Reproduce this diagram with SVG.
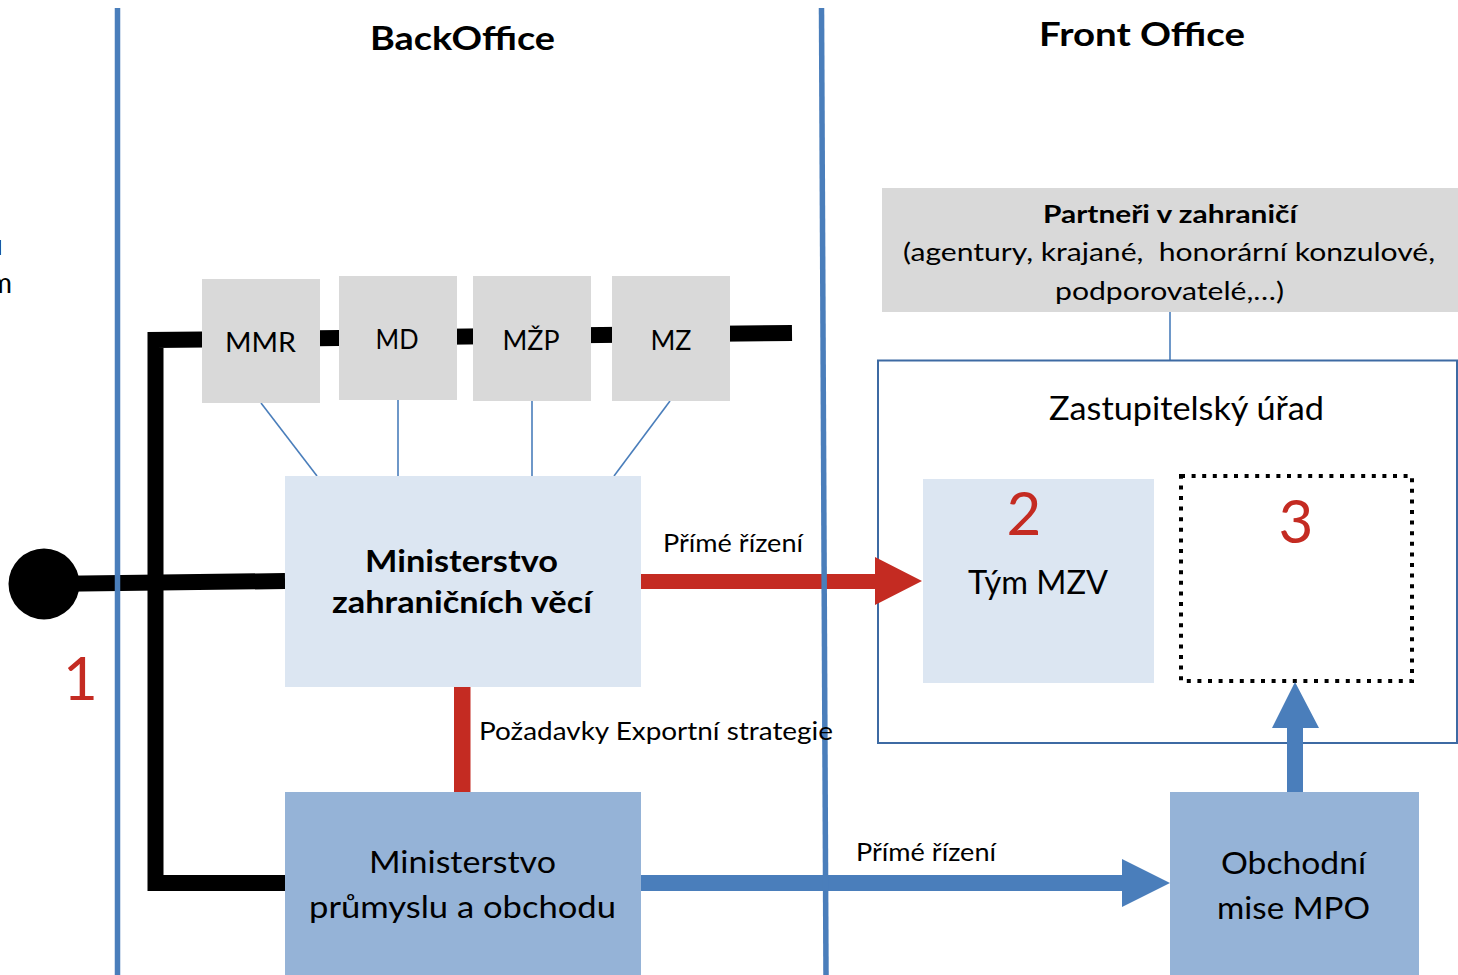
<svg xmlns="http://www.w3.org/2000/svg" width="1458" height="975" viewBox="0 0 1458 975">
<style>
text{font-family:Lato,"Noto Sans","Liberation Sans",sans-serif;fill:#000}
.b{font-weight:bold}
.num{fill:#c42b22;font-size:60px}
.lbl{font-size:25px}
.big{font-size:31px}
.gray{fill:#d9d9d9}
.light{fill:#dce6f2}
.mid{fill:#95b3d7}
.thin{stroke:#4a7ebb;stroke-width:1.6;fill:none}
.sec{stroke:#4a7ebb;stroke-width:5.5;fill:none}
</style>
<rect width="1458" height="975" fill="#fff"/>

<g id="cut-text">
<text x="2.5" y="255" text-anchor="end" font-size="28">u</text>
<text x="12" y="293" text-anchor="end" font-size="28">m</text>
</g>

<g id="titles">
<text class="b" x="462.5" y="49.5" text-anchor="middle" font-size="33" textLength="185" lengthAdjust="spacingAndGlyphs">BackOffice</text>
<text class="b" x="1142" y="46" text-anchor="middle" font-size="33" textLength="206" lengthAdjust="spacingAndGlyphs">Front Office</text>
</g>

<g id="connectors">
<polyline points="792,333 155.5,340 155.5,883 287,883" fill="none" stroke="#000" stroke-width="16" stroke-linejoin="miter"/>
<line x1="44" y1="584" x2="285" y2="581" stroke="#000" stroke-width="16"/>
<circle cx="44" cy="584" r="35.5" fill="#000"/>
<line class="thin" x1="261" y1="403" x2="317" y2="476"/>
<line class="thin" x1="398" y1="400" x2="398" y2="476"/>
<line class="thin" x1="532" y1="401" x2="532" y2="476"/>
<line class="thin" x1="670" y1="401" x2="614" y2="476"/>
<line class="thin" x1="1170" y1="312" x2="1170" y2="360"/>
</g>

<g id="zastupitelsky-urad">
<rect x="878" y="360.5" width="579" height="382.5" fill="#fff" stroke="#3d6aa3" stroke-width="2"/>
<text x="1186.5" y="420" text-anchor="middle" font-size="33" textLength="275" lengthAdjust="spacingAndGlyphs">Zastupitelský úřad</text>
</g>

<g id="mmr"><rect class="gray" x="202" y="279" width="118" height="124"/>
<text x="260.5" y="352" text-anchor="middle" font-size="27" textLength="71" lengthAdjust="spacingAndGlyphs">MMR</text></g>
<g id="md"><rect class="gray" x="339" y="276" width="118" height="124"/>
<text x="397" y="349" text-anchor="middle" font-size="27" textLength="43" lengthAdjust="spacingAndGlyphs">MD</text></g>
<g id="mzp"><rect class="gray" x="473" y="276" width="118" height="125"/>
<text x="531" y="350" text-anchor="middle" font-size="27" textLength="57" lengthAdjust="spacingAndGlyphs">MŽP</text></g>
<g id="mz"><rect class="gray" x="612" y="276" width="118" height="125"/>
<text x="671" y="350" text-anchor="middle" font-size="27" textLength="41" lengthAdjust="spacingAndGlyphs">MZ</text></g>

<g id="mzv">
<rect class="light" x="285" y="476" width="356" height="211"/>
<text class="b big" x="461.5" y="572" text-anchor="middle" textLength="193" lengthAdjust="spacingAndGlyphs">Ministerstvo</text>
<text class="b big" x="462" y="613" text-anchor="middle" textLength="260" lengthAdjust="spacingAndGlyphs">zahraničních věcí</text>
</g>

<g id="mpo">
<rect class="mid" x="285" y="792" width="356" height="183"/>
<text class="big" x="462.5" y="873" text-anchor="middle" textLength="187" lengthAdjust="spacingAndGlyphs">Ministerstvo</text>
<text class="big" x="462.5" y="918" text-anchor="middle" textLength="307" lengthAdjust="spacingAndGlyphs">průmyslu a obchodu</text>
</g>

<g id="partneri">
<rect class="gray" x="882" y="188" width="576" height="124"/>
<text class="b" x="1170" y="223" text-anchor="middle" font-size="25" textLength="254" lengthAdjust="spacingAndGlyphs">Partneři v zahraničí</text>
<text x="1169" y="261" text-anchor="middle" font-size="25" textLength="532" lengthAdjust="spacingAndGlyphs" xml:space="preserve">(agentury, krajané,  honorární konzulové,</text>
<text x="1169.5" y="300" text-anchor="middle" font-size="25" textLength="229" lengthAdjust="spacingAndGlyphs">podporovatelé,…)</text>
</g>

<g id="tym-mzv">
<rect class="light" x="923" y="479" width="231" height="204"/>
<text class="num" x="1024" y="535" text-anchor="middle">2</text>
<text x="1038" y="594" text-anchor="middle" font-size="32" textLength="140" lengthAdjust="spacingAndGlyphs">Tým MZV</text>
</g>

<g id="box3">
<rect x="1181" y="476" width="231" height="205" fill="none" stroke="#000" stroke-width="4" stroke-dasharray="4 6.6"/>
<text class="num" x="1296" y="543" text-anchor="middle">3</text>
</g>

<g id="obchodni-mise">
<rect class="mid" x="1170" y="792" width="249" height="183"/>
<text class="big" x="1293.5" y="874" text-anchor="middle" textLength="145" lengthAdjust="spacingAndGlyphs">Obchodní</text>
<text class="big" x="1293.5" y="919" text-anchor="middle" textLength="153" lengthAdjust="spacingAndGlyphs">mise MPO</text>
</g>

<g id="arrows">
<polygon points="641,574 875,574 875,557 922,581 875,605 875,589 641,589" fill="#c42b22"/>
<rect x="454" y="687" width="16.5" height="105" fill="#c42b22"/>
<polygon points="641,875 1122,875 1122,859 1170,883 1122,907 1122,891 641,891" fill="#4a7ebb"/>
<polygon points="1287,792 1287,728 1272,728 1295,682 1319,728 1303,728 1303,792" fill="#4a7ebb"/>
</g>

<g id="labels">
<text class="num" x="80.5" y="700" text-anchor="middle">1</text>
<text class="lbl" x="733" y="552" text-anchor="middle" textLength="140" lengthAdjust="spacingAndGlyphs">Přímé řízení</text>
<text class="lbl" x="926" y="861" text-anchor="middle" textLength="140" lengthAdjust="spacingAndGlyphs">Přímé řízení</text>
</g>

<g id="sections">
<line class="sec" x1="117.5" y1="8" x2="117.5" y2="975"/>
<line class="sec" x1="821.5" y1="8" x2="826" y2="975"/>
</g>

<text class="lbl" x="479" y="740" textLength="354" lengthAdjust="spacingAndGlyphs">Požadavky Exportní strategie</text>
</svg>
